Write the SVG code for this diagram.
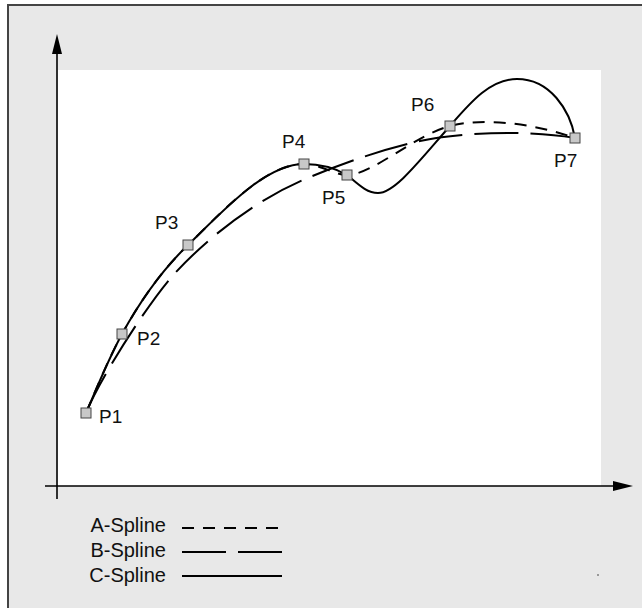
<svg xmlns="http://www.w3.org/2000/svg" width="642" height="608" viewBox="0 0 642 608">
<defs>
<style>
.lbl{font-family:"Liberation Sans",Arial,sans-serif;font-size:19px;fill:#111}
.leg{font-family:"Liberation Sans",Arial,sans-serif;font-size:20px;fill:#111;text-anchor:end}
.axis{stroke:#000;stroke-width:1.6;fill:none}
.c{stroke:#000;stroke-width:2;fill:none}
.a{stroke:#000;stroke-width:2;fill:none;stroke-dasharray:12 9}
.b{stroke:#000;stroke-width:2;fill:none;stroke-dasharray:44 12}
.pt{fill:#c8c8c8;stroke:#444;stroke-width:1}
</style>
</defs>
<rect x="0" y="0" width="642" height="608" fill="#fff"/>
<rect x="8" y="5" width="640" height="610" fill="#e8e8e8" stroke="#444" stroke-width="2"/>
<rect x="58" y="70" width="543" height="416" fill="#fff"/>
<g id="axes">
<line class="axis" x1="57" y1="499" x2="57" y2="52"/>
<polygon points="57,34 52,54 62,54" fill="#000"/>
<line class="axis" x1="45" y1="486" x2="615" y2="486"/>
<polygon points="633,486 613,481 613,491" fill="#000"/>
</g>
<g id="connectors">
<path id="b-spline" class="b" d="M86,413 C100,378 150,300 176,272 C205,241 250,203 303,180 C340,164 380,150 420,141 C460,132 530,130 575,138"/>
<path id="a-spline" class="a" d="M86,413 C98,385 108,360 122,334 C138,305 160,272 188,245 C222,212 265,164 304,164 C320,164 335,175 347,175 C372,175 415,135 450,126 C480,118 530,122 575,138"/>
<path id="c-spline" class="c" d="M86,413 C98,385 108,360 122,334 C138,305 160,272 188,245 C222,212 265,164 304,164 C320,164 335,168 347,175 C357,183 366,193 378,193 C395,193 420,160 450,126 C470,103 490,79 517,79 C550,79 570,110 575,138"/>
</g>
<g id="P1"><rect class="pt" x="81" y="408" width="10" height="10"/><text class="lbl" x="99" y="423">P1</text></g>
<g id="P2"><rect class="pt" x="117" y="329" width="10" height="10"/><text class="lbl" x="137" y="345">P2</text></g>
<g id="P3"><rect class="pt" x="183" y="240" width="10" height="10"/><text class="lbl" x="155" y="229">P3</text></g>
<g id="P4"><rect class="pt" x="299" y="159" width="10" height="10"/><text class="lbl" x="282" y="148">P4</text></g>
<g id="P5"><rect class="pt" x="342" y="170" width="10" height="10"/><text class="lbl" x="322" y="204">P5</text></g>
<g id="P6"><rect class="pt" x="445" y="121" width="10" height="10"/><text class="lbl" x="411" y="111">P6</text></g>
<g id="P7"><rect class="pt" x="570" y="133" width="10" height="10"/><text class="lbl" x="554" y="167">P7</text></g>
<g id="legend">
<text class="leg" x="166" y="532">A-Spline</text>
<line class="a" x1="182" y1="528" x2="282" y2="528"/>
<text class="leg" x="166" y="557">B-Spline</text>
<line class="b" x1="182" y1="552" x2="282" y2="552"/>
<text class="leg" x="166" y="582">C-Spline</text>
<line class="c" x1="182" y1="576" x2="282" y2="576"/>
</g>
<rect x="597" y="574" width="2" height="2" fill="#999"/>
</svg>
